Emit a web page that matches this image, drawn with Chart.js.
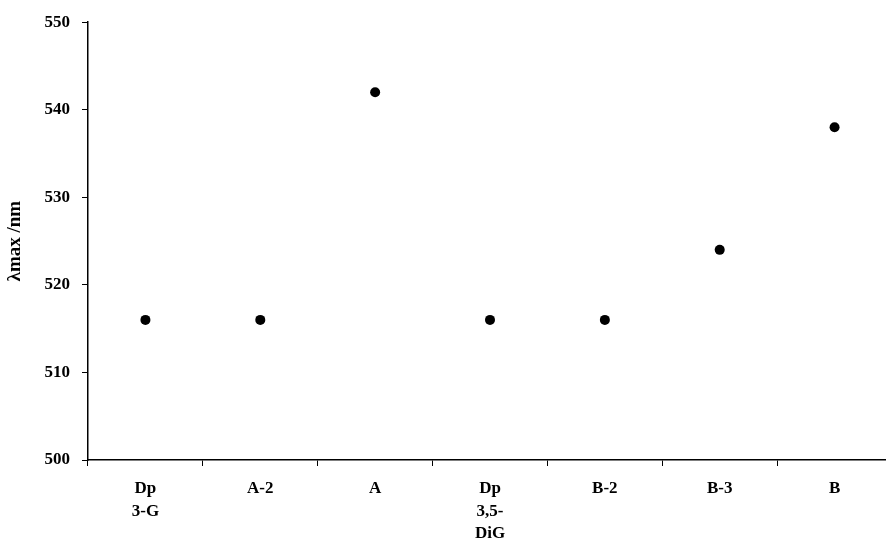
<!DOCTYPE html>
<html lang="en">
<head>
<meta charset="UTF-8">
<title>λmax chart</title>
<script src="https://cdn.jsdelivr.net/npm/chart.js"></script>
<style>
  body {
    margin: 0;
    padding: 0;
    background-color: #ffffff;
    overflow: hidden;
  }
  /* a bit wider than the window: the plot runs past the right edge in the original */
  #box {
    width: 897px;
    height: 541px;
  }
</style>
</head>
<body>
<div id="box"><canvas id="lambdaChart"></canvas></div>
<script>
// Categories (multi-line labels) and lambda max values
const categories = [['Dp', '3-G'], 'A-2', 'A', ['Dp', '3,5-', 'DiG'], 'B-2', 'B-3', 'B'];
const lambdaMax = [516, 516, 542, 516, 516, 524, 538];
const yTicks = [500, 510, 520, 530, 540, 550];

const serif = "'Liberation Serif', 'Times New Roman', serif";

const ctx = document.getElementById('lambdaChart').getContext('2d');

const chart = new Chart(ctx, {
  type: 'line',
  data: {
    labels: categories,
    datasets: [{
      label: 'λmax',
      data: lambdaMax,
      showLine: false,
      pointRadius: 5,
      pointHoverRadius: 5,
      pointBackgroundColor: '#000000',
      pointBorderColor: '#000000',
      pointBorderWidth: 0
    }]
  },
  options: {
    responsive: true,
    maintainAspectRatio: false,
    animation: false,
    layout: {
      padding: { top: 14, right: 1, left: 0, bottom: 0 }
    },
    plugins: {
      legend: { display: false },
      tooltip: { enabled: false }
    },
    scales: {
      x: {
        type: 'category',
        offset: true,
        grid: {
          offset: true,
          drawOnChartArea: false,
          drawTicks: true,
          tickLength: 6,
          color: '#000000',
          lineWidth: 1
        },
        border: { color: '#000000', width: 1.5 },
        ticks: {
          color: '#000000',
          padding: 12,
          maxRotation: 0,
          autoSkip: false,
          font: { family: serif, size: 17, weight: 'bold', lineHeight: 1.3 }
        },
        afterFit: function(scale) { scale.height = 81; }
      },
      y: {
        min: 500,
        max: 550,
        afterBuildTicks: function(scale) {
          scale.ticks = yTicks.map(v => ({ value: v }));
        },
        grid: {
          drawOnChartArea: false,
          drawTicks: true,
          tickLength: 6,
          color: '#000000',
          lineWidth: 1
        },
        border: { color: '#000000', width: 1.5 },
        ticks: {
          color: '#000000',
          padding: 12,
          font: { family: serif, size: 17, weight: 'bold' }
        },
        title: {
          display: true,
          text: 'λmax /nm',
          color: '#000000',
          padding: { top: 4, bottom: 0 },
          font: { family: serif, size: 19, weight: 'bold' }
        },
        afterFit: function(scale) { scale.width = 88; }
      }
    }
  }
});
</script>
</body>
</html>
